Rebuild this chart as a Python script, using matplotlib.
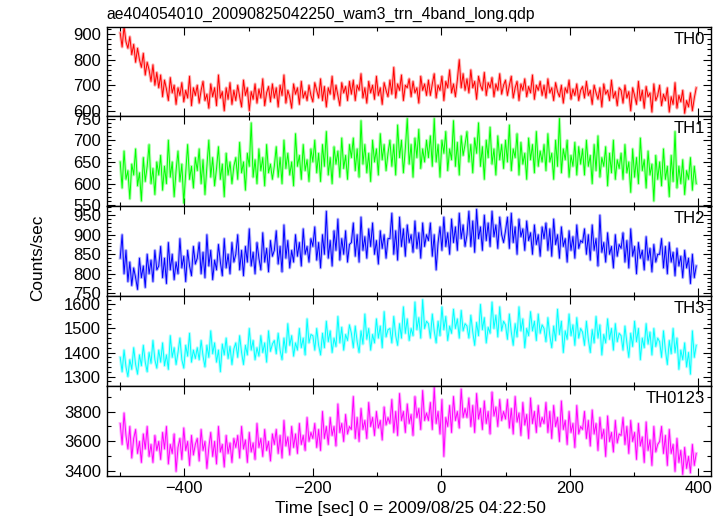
import numpy as np
import matplotlib
matplotlib.use('Agg')
import matplotlib.pyplot as plt
from matplotlib.ticker import MultipleLocator

plt.rcParams['font.family'] = ['Liberation Sans', 'DejaVu Sans']

# time bins (sec), 3 s apart, 0 = 2009/08/25 04:22:50
time = np.arange(-500, 400, 3)

th0 = [905, 850, 930, 870, 845, 890, 820, 860, 790, 845, 800, 770, 825, 740, 790, 760, 715, 780, 700, 750,
       690, 740, 655, 720, 685, 640, 730, 670, 700, 625, 690, 660, 710, 635, 680, 650, 735, 620, 690, 660,
       700, 630, 680, 715, 640, 665, 610, 705, 655, 690, 620, 740, 650, 675, 600, 690, 645, 710, 625, 680,
       640, 700, 655, 615, 720, 660, 690, 600, 675, 645, 705, 630, 685, 650, 725, 620, 670, 695, 635, 705,
       650, 690, 615, 700, 660, 740, 630, 680, 655, 610, 705, 665, 690, 625, 715, 650, 675, 640, 700, 660,
       635, 710, 680, 650, 725, 640, 695, 615, 690, 665, 735, 645, 700, 660, 620, 710, 670, 695, 640, 715,
       665, 720, 640, 700, 680, 745, 650, 690, 630, 715, 670, 700, 645, 735, 660, 690, 625, 710, 680, 655,
       720, 665, 770, 650, 705, 680, 740, 640, 700, 690, 725, 655, 715, 670, 690, 630, 735, 680, 705, 660,
       720, 660, 705, 745, 650, 700, 680, 735, 640, 715, 690, 760, 670, 705, 655, 720, 800, 690, 745, 680,
       725, 670, 760, 690, 715, 645, 735, 700, 680, 750, 660, 710, 690, 730, 655, 705, 680, 745, 665, 700,
       720, 660, 700, 735, 650, 690, 715, 640, 705, 680, 725, 655, 695, 670, 740, 645, 700, 680, 715, 660,
       700, 650, 725, 670, 690, 640, 710, 675, 655, 700, 630, 690, 670, 720, 645, 685, 660, 705, 640, 680,
       695, 650, 715, 660, 680, 625, 700, 670, 645, 690, 615, 705, 665, 680, 640, 720, 650, 675, 620, 690,
       680, 630, 700, 650, 675, 600, 690, 660, 625, 715, 640, 680, 610, 695, 655, 670, 595, 705, 640, 660,
       700, 620, 665, 640, 690, 595, 655, 625, 710, 610, 660, 635, 680, 590, 640, 615, 670, 600, 650, 690]

th1 = [650, 590, 675, 610, 630, 565, 645, 620, 680, 595, 625, 560, 660, 605, 640, 690, 600, 635, 575, 650,
       620, 665, 585, 640, 600, 700, 615, 650, 570, 630, 675, 605, 645, 555, 625, 690, 610, 640, 590, 660,
       630, 680, 600, 655, 575, 640, 700, 615, 660, 595, 635, 685, 610, 645, 570, 670, 620, 650, 600, 640,
       660, 610, 695, 625, 650, 585, 670, 640, 740, 615, 655, 600, 680, 630, 660, 595, 690, 625, 645, 610,
       640, 685, 615, 660, 600, 700, 635, 670, 620, 650, 595, 715, 640, 665, 610, 690, 630, 655, 605, 680,
       650, 700, 625, 670, 605, 690, 640, 720, 620, 660, 600, 685, 645, 675, 615, 705, 635, 665, 610, 690,
       660, 705, 630, 680, 615, 745, 645, 690, 625, 670, 605, 700, 650, 680, 620, 715, 655, 690, 630, 670,
       700, 640, 690, 620, 735, 660, 700, 625, 680, 750, 645, 690, 615, 705, 660, 725, 635, 680, 650, 700,
       660, 710, 640, 750, 650, 690, 615, 700, 670, 720, 630, 680, 655, 745, 640, 695, 620, 710, 665, 690,
       720, 650, 690, 625, 705, 670, 740, 640, 685, 610, 700, 660, 730, 645, 680, 620, 710, 655, 690, 635,
       700, 650, 735, 630, 680, 660, 715, 620, 695, 645, 670, 610, 705, 655, 690, 625, 720, 640, 675, 650,
       690, 630, 715, 650, 670, 610, 700, 640, 750, 625, 680, 655, 700, 615, 665, 640, 695, 620, 685, 645,
       680, 620, 700, 640, 665, 600, 690, 630, 710, 615, 660, 640, 685, 595, 670, 625, 700, 610, 655, 635,
       670, 610, 690, 625, 650, 580, 680, 615, 660, 600, 705, 630, 655, 590, 675, 620, 645, 560, 665, 610,
       650, 595, 680, 610, 640, 570, 665, 605, 720, 590, 640, 600, 655, 575, 630, 610, 660, 585, 640, 600]

th2 = [840, 900, 800, 860, 780, 830, 770, 815, 790, 760, 840, 790, 820, 765, 850, 800, 835, 780, 860, 810,
       820, 870, 790, 840, 775, 880, 810, 850, 785, 830, 800, 890, 815, 845, 780, 860, 820, 795, 870, 825,
       840, 880, 800, 855, 790, 900, 820, 860, 785, 835, 810, 875, 830, 795, 890, 815, 850, 800, 880, 830,
       850, 900, 810, 860, 795, 870, 830, 915, 820, 855, 800, 880, 840, 810, 905, 830, 865, 805, 885, 845,
       860, 910, 825, 870, 805, 925, 840, 885, 815, 860, 830, 900, 845, 880, 820, 915, 850, 870, 830, 890,
       870, 920, 835, 880, 815, 900, 850, 960, 840, 885, 820, 910, 860, 940, 835, 890, 850, 910, 830, 875,
       880, 930, 845, 900, 830, 945, 860, 895, 840, 915, 870, 930, 850, 885, 825, 910, 865, 900, 840, 890,
       890, 955, 850, 910, 835, 945, 870, 915, 845, 925, 880, 900, 855, 935, 865, 905, 840, 930, 870, 900,
       885, 930, 845, 900, 810, 880, 920, 860, 945, 870, 905, 850, 940, 880, 920, 860, 955, 890, 925, 870,
       900, 960, 870, 935, 855, 965, 890, 920, 860, 950, 885, 930, 870, 960, 895, 925, 865, 945, 900, 880,
       910, 945, 865, 955, 880, 920, 850, 940, 895, 915, 860, 935, 885, 905, 850, 925, 875, 900, 845, 920,
       890, 930, 860, 915, 845, 940, 875, 900, 840, 920, 870, 890, 830, 910, 860, 895, 840, 925, 865, 885,
       880, 915, 850, 900, 835, 925, 860, 890, 820, 950, 855, 880, 830, 905, 850, 870, 815, 900, 845, 875,
       865, 905, 830, 885, 815, 915, 845, 870, 800, 880, 840, 860, 810, 895, 835, 865, 805, 875, 830, 850,
       850, 890, 815, 870, 800, 880, 830, 855, 795, 865, 820, 845, 790, 860, 815, 840, 775, 850, 790, 820]

th3 = [1380, 1320, 1410, 1340, 1300, 1370, 1330, 1420, 1350, 1310, 1390, 1345, 1430, 1360, 1320, 1400, 1355, 1450, 1370, 1335,
       1410, 1360, 1440, 1345, 1390, 1330, 1470, 1380, 1420, 1350, 1400, 1460, 1370, 1335, 1430, 1385, 1480, 1360, 1410, 1375,
       1420, 1370, 1450, 1385, 1340, 1430, 1380, 1490, 1395, 1440, 1360, 1410, 1320, 1435, 1390, 1460, 1375, 1425, 1350, 1415,
       1440, 1380, 1470, 1400, 1350, 1430, 1390, 1500, 1410, 1450, 1370, 1420, 1385, 1470, 1400, 1440, 1360, 1490, 1405, 1435,
       1450, 1395, 1480, 1410, 1370, 1460, 1400, 1520, 1430, 1470, 1385, 1440, 1410, 1500, 1420, 1460, 1390, 1540, 1440, 1475,
       1470, 1410, 1500, 1430, 1390, 1480, 1420, 1530, 1445, 1490, 1400, 1460, 1425, 1550, 1440, 1505, 1410, 1475, 1450, 1515,
       1480, 1420, 1510, 1445, 1400, 1490, 1435, 1560, 1455, 1500, 1410, 1475, 1440, 1540, 1460, 1510, 1420, 1570, 1465, 1495,
       1500, 1440, 1550, 1470, 1430, 1520, 1460, 1590, 1480, 1540, 1450, 1500, 1470, 1610, 1495, 1545, 1460, 1620, 1500, 1530,
       1520, 1460, 1560, 1490, 1440, 1530, 1470, 1590, 1495, 1550, 1450, 1510, 1480, 1580, 1500, 1540, 1460, 1575, 1490, 1520,
       1510, 1460, 1555, 1485, 1430, 1525, 1470, 1600, 1495, 1545, 1440, 1505, 1480, 1610, 1500, 1555, 1465, 1590, 1490, 1530,
       1515, 1455, 1560, 1485, 1430, 1520, 1465, 1590, 1490, 1540, 1420, 1500, 1470, 1570, 1490, 1530, 1450, 1560, 1480, 1515,
       1500, 1445, 1545, 1470, 1420, 1510, 1450, 1580, 1475, 1530, 1400, 1490, 1455, 1560, 1470, 1515, 1430, 1545, 1460, 1500,
       1485, 1430, 1530, 1455, 1400, 1495, 1440, 1550, 1460, 1515, 1390, 1475, 1440, 1540, 1455, 1500, 1410, 1520, 1445, 1480,
       1470, 1410, 1510, 1440, 1380, 1480, 1425, 1530, 1445, 1500, 1370, 1460, 1420, 1520, 1435, 1485, 1390, 1500, 1425, 1460,
       1445, 1380, 1490, 1410, 1350, 1450, 1395, 1500, 1400, 1460, 1330, 1410, 1370, 1440, 1340, 1400, 1310, 1490, 1380, 1430]

th0123 = [3720, 3580, 3790, 3640, 3550, 3700, 3490, 3620, 3680, 3520, 3600, 3460, 3650, 3550, 3700, 3500, 3580, 3460, 3640, 3540,
          3600, 3480, 3660, 3550, 3700, 3450, 3580, 3520, 3650, 3400, 3560, 3620, 3480, 3690, 3540, 3600, 3440, 3640, 3510, 3580,
          3620, 3470, 3680, 3540, 3600, 3420, 3560, 3660, 3500, 3600, 3450, 3700, 3530, 3580, 3430, 3640, 3520, 3590, 3460, 3620,
          3560, 3640, 3490, 3700, 3550, 3610, 3460, 3660, 3530, 3590, 3480, 3720, 3560, 3620, 3500, 3680, 3540, 3600, 3470, 3650,
          3580, 3680, 3520, 3640, 3490, 3740, 3570, 3630, 3510, 3700, 3560, 3650, 3520, 3720, 3580, 3640, 3540, 3760, 3600, 3660,
          3620, 3720, 3560, 3680, 3540, 3800, 3620, 3700, 3580, 3760, 3640, 3700, 3570, 3850, 3660, 3720, 3600, 3780, 3650, 3700,
          3680, 3900, 3620, 3760, 3600, 3820, 3680, 3740, 3620, 3860, 3700, 3760, 3640, 3800, 3690, 3740, 3610, 3830, 3710, 3760,
          3720, 3880, 3660, 3800, 3640, 3920, 3740, 3800, 3660, 3850, 3720, 3780, 3640, 3900, 3760, 3820, 3680, 3940, 3740, 3790,
          3740, 3860, 3680, 3960, 3720, 3800, 3650, 3880, 3500, 3760, 3700, 3840, 3660, 3900, 3740, 3800, 3690, 3950, 3760, 3820,
          3760, 3890, 3700, 3840, 3660, 3920, 3750, 3820, 3680, 3870, 3720, 3800, 3650, 3930, 3770, 3830, 3700, 3880, 3740, 3800,
          3750, 3880, 3690, 3820, 3650, 3900, 3730, 3790, 3640, 3860, 3710, 3780, 3620, 3890, 3720, 3800, 3660, 3840, 3700, 3760,
          3720, 3860, 3660, 3800, 3620, 3840, 3700, 3760, 3600, 3870, 3680, 3740, 3580, 3800, 3660, 3720, 3560, 3840, 3650, 3700,
          3680, 3800, 3620, 3740, 3570, 3810, 3650, 3720, 3540, 3760, 3620, 3680, 3500, 3770, 3600, 3660, 3530, 3740, 3590, 3650,
          3640, 3760, 3580, 3700, 3520, 3740, 3600, 3660, 3480, 3720, 3570, 3630, 3460, 3730, 3540, 3610, 3440, 3700, 3530, 3580,
          3600, 3700, 3520, 3640, 3440, 3680, 3520, 3580, 3400, 3620, 3460, 3540, 3380, 3560, 3420, 3500, 3390, 3580, 3440, 3520]

names = ['TH0', 'TH1', 'TH2', 'TH3', 'TH0123']
series = [th0, th1, th2, th3, th0123]
colors = ['#ff0000', '#00ff00', '#0000ff', '#00ffff', '#ff00ff']
ylims = [(578, 930), (548, 755), (743, 973), (1261, 1635), (3371, 3971)]
yticks = [[600, 700, 800, 900], [550, 600, 650, 700, 750],
          [750, 800, 850, 900, 950], [1300, 1400, 1500, 1600],
          [3400, 3600, 3800]]
yminor = [20, 10, 10, 20, 100]

fig, axes = plt.subplots(5, 1, sharex=True, figsize=(7.23, 5.16), dpi=100)
fig.subplots_adjust(left=0.1476, right=0.9834, bottom=0.078, top=0.9486, hspace=0)

for ax, name, y, c, yl, yt, ym in zip(axes, names, series, colors, ylims, yticks, yminor):
    ax.plot(time, y, color=c, lw=2.2, alpha=0.3)   # light halo, like the qdp error bars
    ax.plot(time, y, color=c, lw=0.7)
    ax.set_ylim(*yl)
    ax.set_yticks(yt)
    ax.yaxis.set_minor_locator(MultipleLocator(ym))
    ax.text(0.99, 0.86, name, transform=ax.transAxes, ha='right', va='center', fontsize=12)
    ax.tick_params(which='both', direction='in', top=True, right=True, labelsize=12, pad=4)
    ax.tick_params(which='major', length=6, width=0.8)
    ax.tick_params(which='minor', length=3, width=0.8)
    for s in ax.spines.values():
        s.set_linewidth(1.0)

axes[-1].set_xlim(-521, 420)
axes[-1].set_xticks([-400, -200, 0, 200, 400])
axes[-1].xaxis.set_minor_locator(MultipleLocator(100))
axes[-1].set_xticklabels(['\u2212400', '\u2212200', '0', '200', '400'])

fig.text(0.1476, 1 - 14 / 516, 'ae404054010_20090825042250_wam3_trn_4band_long.qdp',
         ha='left', va='center', fontsize=11.3)
fig.text(410 / 723, 1 - 508 / 516, 'Time [sec] 0 = 2009/08/25 04:22:50',
         ha='center', va='center', fontsize=12.4)
fig.text(38 / 723, 0.5, 'Counts/sec', rotation=90, ha='center', va='center', fontsize=12.4)

plt.savefig('out.png', dpi=100)
